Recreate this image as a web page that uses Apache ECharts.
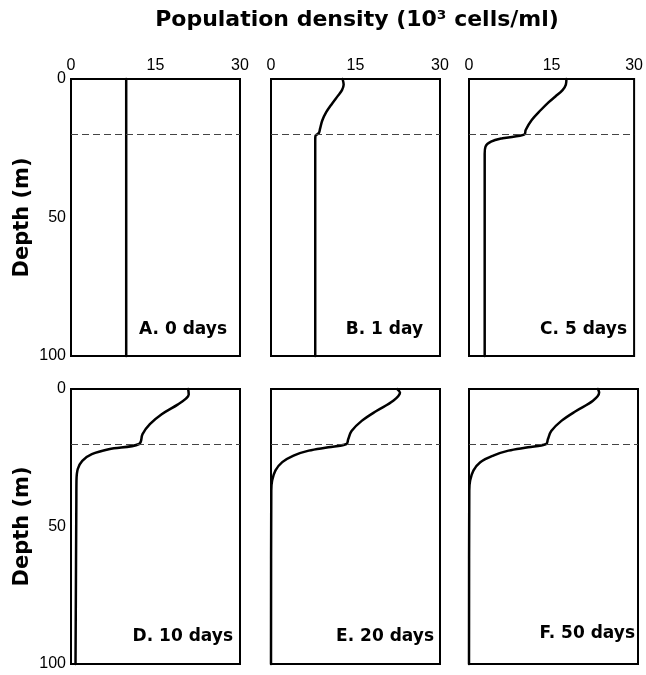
<!DOCTYPE html>
<html>
<head>
<meta charset="utf-8">
<script src="https://cdn.jsdelivr.net/npm/echarts@6/dist/echarts.min.js"></script>
<style>html,body{margin:0;padding:0;background:#fff}#chart{width:646px;height:675px}</style>
</head>
<body>
<div id="chart"></div>
<script>
// ---- data ----
const xTicks = [0, 15, 30];
const yTicks = [0, 50, 100];
const panelLabels = ['A. 0 days', 'B. 1 day', 'C. 5 days', 'D. 10 days', 'E. 20 days', 'F. 50 days'];
const thermoclineDepth = 20;

const depthA = [0, 100];
const densityA = [9.8, 9.8];

const depthB = [0, 2, 4, 6, 9, 12, 15, 18, 19.5, 20.5, 22, 100];
const densityB = [12.7, 12.9, 12.6, 11.9, 10.8, 9.8, 9.1, 8.7, 8.5, 7.9, 7.85, 7.85];

const depthC = [0, 2, 4, 6.3, 8.5, 11.1, 14.8, 18.4, 20, 21.4, 22.6, 24.4, 27, 100];
const densityC = [17.7, 17.6, 17.0, 15.7, 14.4, 13.1, 11.4, 10.3, 10.1, 6.1, 4.0, 3.0, 2.85, 2.85];

const depthD = [0, 2, 3.5, 5.6, 9.2, 12.8, 16.4, 20, 21.9, 23.7, 26.1, 29.1, 33.4, 40, 100];
const densityD = [20.8, 20.9, 20.4, 19.0, 16.1, 14.0, 12.7, 12.1, 6.7, 3.7, 2.0, 1.2, 0.97, 0.95, 0.8];

const depthE = [0, 1.3, 4.3, 8, 11.6, 15.3, 18.3, 20, 21.2, 22.4, 24.2, 26.6, 29.6, 33.3, 37, 100];
const densityE = [22.4, 22.9, 21.7, 18.7, 16.1, 14.3, 13.7, 13.4, 10.2, 6.7, 4.0, 2.0, 0.8, 0.2, 0.05, 0];

const depthF = [0, 1.3, 4.3, 8, 11.6, 15.3, 18.3, 20, 21.2, 22.4, 24.2, 26.6, 29.6, 33.3, 37, 100];
const densityF = [22.9, 23.1, 22.0, 19.0, 16.4, 14.6, 14.0, 13.7, 10.5, 7.0, 4.3, 2.0, 0.8, 0.2, 0.05, 0];

const profiles = [
  [depthA, densityA], [depthB, densityB], [depthC, densityC],
  [depthD, densityD], [depthE, densityE], [depthF, densityF]
];

// ---- layout ----
const colLeft = [71, 271, 469];
const rowTop = [79, 389];
const rowHeight = [277, 275];
const gridW = 169;
const labelInset = [13, 17, 11, 7, 6, 3];
const labelRise = [26, 26, 26, 27, 27, 30];

const tickFont = 'Liberation Sans, Arial, sans-serif';
const boldFont = 'DejaVu Sans, sans-serif';

const grids = [], xAxes = [], yAxes = [], series = [], graphics = [];
for (let i = 0; i < 6; i++) {
  const r = Math.floor(i / 3), c = i % 3;
  grids.push({
    left: colLeft[c], top: rowTop[r], width: gridW, height: rowHeight[r],
    show: true, borderColor: '#000', borderWidth: 2, backgroundColor: 'transparent'
  });
  xAxes.push({
    type: 'value', gridIndex: i, min: xTicks[0], max: xTicks[2], interval: 15,
    position: 'top',
    axisLine: { show: false }, axisTick: { show: false }, splitLine: { show: false },
    axisLabel: { show: r === 0, fontSize: 16, color: '#000', fontFamily: tickFont, margin: 5 }
  });
  yAxes.push({
    type: 'value', gridIndex: i, min: yTicks[0], max: yTicks[2], interval: 50, inverse: true,
    axisLine: { show: false }, axisTick: { show: false }, splitLine: { show: false },
    axisLabel: { show: c === 0, fontSize: 16, color: '#000', fontFamily: tickFont, margin: 5 }
  });
  const [dep, den] = profiles[i];
  series.push({
    type: 'line', xAxisIndex: i, yAxisIndex: i,
    data: dep.map((d, k) => [den[k], d]),
    showSymbol: false, symbol: 'none', smooth: 0.35, clip: false,
    lineStyle: { color: '#000', width: 2.5, join: 'round', cap: 'round' },
    markLine: {
      silent: true, symbol: ['none', 'none'], label: { show: false },
      lineStyle: { type: [7, 4], color: '#444', width: 1 },
      data: [{ yAxis: thermoclineDepth }]
    }
  });
  graphics.push({
    type: 'text',
    style: {
      text: panelLabels[i],
      x: colLeft[c] + gridW - labelInset[i],
      y: rowTop[r] + rowHeight[r] - labelRise[i],
      align: 'right', verticalAlign: 'middle',
      font: 'bold 17px ' + boldFont, fill: '#000'
    }
  });
}

graphics.push({
  type: 'text',
  style: {
    text: 'Population density (10³ cells/ml)',
    x: 357, y: 20, align: 'center', verticalAlign: 'middle',
    font: 'bold 22px ' + boldFont, fill: '#000'
  }
});
for (let r = 0; r < 2; r++) {
  graphics.push({
    type: 'text',
    x: 23, y: rowTop[r] + rowHeight[r] / 2, rotation: Math.PI / 2,
    style: {
      text: 'Depth (m)', x: 0, y: 0, align: 'center', verticalAlign: 'middle',
      font: 'bold 21px ' + boldFont, fill: '#000'
    }
  });
}

const chart = echarts.init(document.getElementById('chart'), null, { renderer: 'canvas' });
chart.setOption({
  animation: false,
  backgroundColor: '#fff',
  grid: grids, xAxis: xAxes, yAxis: yAxes, series: series,
  graphic: graphics
});
</script>
</body>
</html>
